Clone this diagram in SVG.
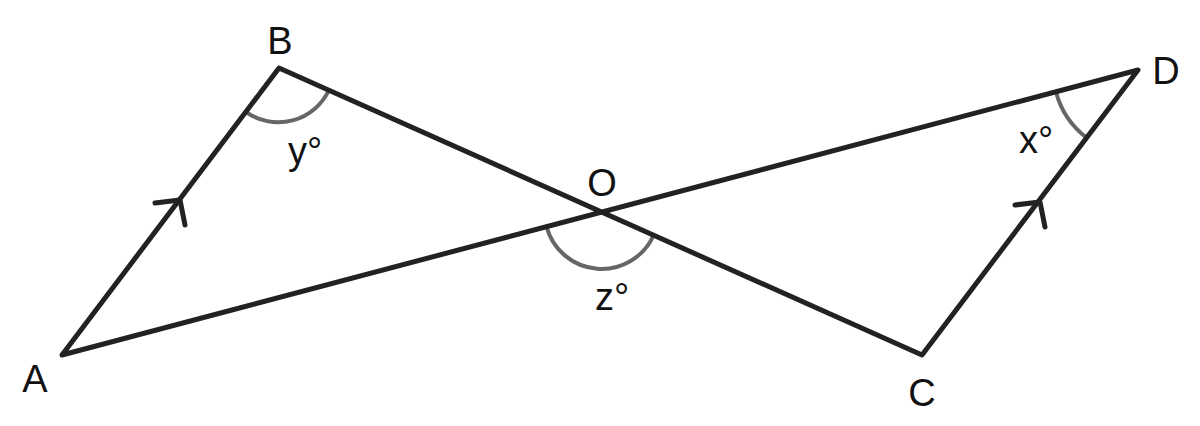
<svg xmlns="http://www.w3.org/2000/svg" width="1200" height="426" viewBox="0 0 1200 426">
<style>
.ln{stroke:#222;stroke-width:5;fill:none;stroke-linecap:round;stroke-linejoin:round}
.arc{stroke:#666;stroke-width:4;fill:none}
text{font-family:"Liberation Sans",Arial,sans-serif;font-size:38px;fill:#111;text-anchor:middle}
</style>
<rect width="1200" height="426" fill="#fff"/>
<g id="connectors">
<path class="arc" d="M246,112 A56,56 0 0 0 329,90"/>
<path class="arc" d="M1056,92 A85,85 0 0 0 1087,138"/>
<path class="arc" d="M546.5,226.5 A57,57 0 0 0 653.6,235.2"/>
<path class="ln" d="M62,355 L279,68 L922,355 L1138,70 Z"/>
<path class="ln" d="M155,203 L180,200 L185,225"/>
<path class="ln" d="M1015,205 L1040,202 L1045,227"/>
</g>
<g id="A"><text x="35" y="392">A</text></g>
<g id="B"><text x="280" y="54">B</text></g>
<g id="C"><text x="922" y="406">C</text></g>
<g id="D"><text x="1166" y="84">D</text></g>
<g id="O"><text x="602" y="196">O</text></g>
<g id="y"><text x="305" y="164">y°</text></g>
<g id="x"><text x="1036" y="153">x°</text></g>
<g id="z"><text x="612" y="310">z°</text></g>
</svg>
